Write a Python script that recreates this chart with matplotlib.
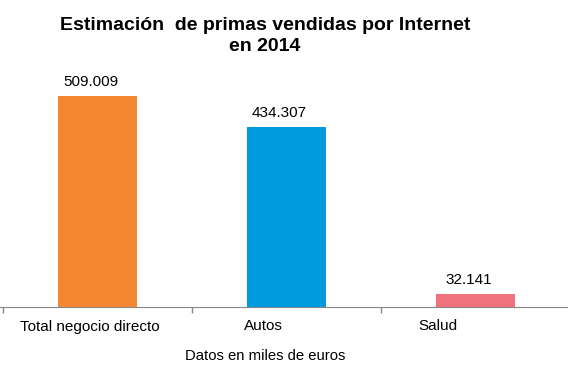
import matplotlib.pyplot as plt

plt.rcParams['font.family'] = ['Liberation Sans', 'DejaVu Sans']

categories = ['Total negocio directo', 'Autos', 'Salud']
values = [509.009, 434.307, 32.141]
value_labels = ['509.009', '434.307', '32.141']
colors = ['#F58733', '#009ADE', '#F0727D']

fig = plt.figure(figsize=(5.68, 3.78), dpi=100)
ax = fig.add_axes([3 / 568, 71 / 378, 567 / 568, 249 / 378])

x = list(range(len(categories)))
bars = ax.bar(x, values, width=0.42, color=colors)

for b, lab in zip(bars, value_labels):
    ax.annotate(lab, (b.get_x() + b.get_width() / 2, b.get_height()),
                xytext=(-5, 5), textcoords='offset points',
                ha='center', va='bottom', fontsize=11)

ax.set_xlim(-0.5, 2.5)
ax.set_ylim(0, 600)

# tick marks between categories, labels placed like the original
ax.set_xticks([-0.5, 0.5, 1.5, 2.5])
ax.set_xticklabels([])
ax.tick_params(axis='x', which='major', length=4, color='#878787', width=1)
ax.set_xticks([-0.04, 0.88, 1.80], minor=True)
ax.set_xticklabels(categories, minor=True, fontsize=11)
ax.tick_params(axis='x', which='minor', length=0, pad=9)

ax.set_yticks([0])
ax.set_yticklabels([])
ax.tick_params(axis='y', length=3, color='#878787')
for s in ['top', 'right', 'left']:
    ax.spines[s].set_visible(False)
ax.spines['bottom'].set_color('#878787')

fig.text(265 / 568, 1 - 356 / 378, 'Datos en miles de euros',
         ha='center', va='center', fontsize=10.7)
fig.text(265 / 568, 1 - 36 / 378,
         'Estimación  de primas vendidas por Internet\nen 2014',
         ha='center', va='center', fontsize=14, fontweight='bold',
         linespacing=1.35)

fig.savefig('out.png', dpi=100)
